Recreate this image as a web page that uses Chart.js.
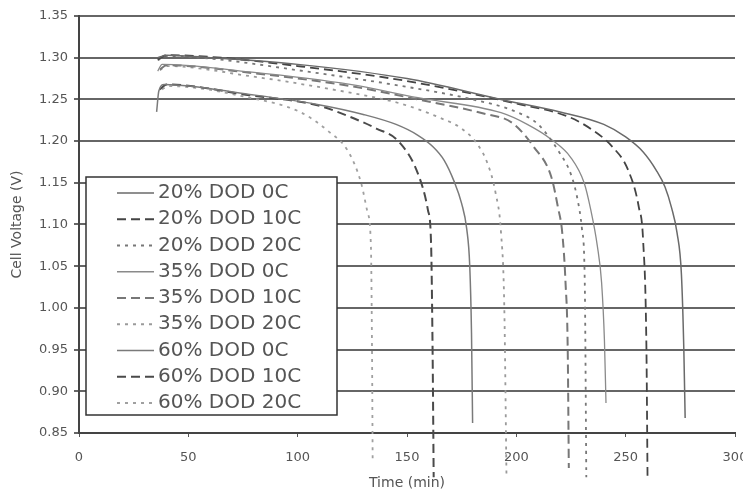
<!DOCTYPE html>
<html>
<head>
<meta charset="utf-8">
<script src="https://cdn.jsdelivr.net/npm/chart.js@4.4.1/dist/chart.umd.min.js"></script>
<style>
  html, body { margin: 0; padding: 0; background: #fff; }
</style>
</head>
<body>
<canvas id="dodChart" width="743" height="495"></canvas>
<script>
// discharge curves, time in minutes and cell voltage in volts
const seriesNames = [
  '20% DOD 0C', '20% DOD 10C', '20% DOD 20C',
  '35% DOD 0C', '35% DOD 10C', '35% DOD 20C',
  '60% DOD 0C', '60% DOD 10C', '60% DOD 20C'
];

const t20_0C  = [36, 40, 60, 100, 150, 193, 220, 240, 250, 258, 264, 268, 271, 273.5, 275.5, 276.6, 277.2];
const v20_0C  = [1.300, 1.303, 1.300, 1.292, 1.275, 1.250, 1.235, 1.220, 1.205, 1.187, 1.165, 1.145, 1.120, 1.090, 1.040, 0.950, 0.868];
const t20_10C = [36, 40, 60, 100, 150, 200, 224, 235, 244, 251, 256, 258, 259.5, 260];
const v20_10C = [1.298, 1.303, 1.301, 1.290, 1.272, 1.245, 1.229, 1.213, 1.193, 1.166, 1.121, 1.080, 0.950, 0.797];
const t20_20C = [36, 40, 60, 100, 150, 180, 200, 210, 220, 225, 228, 230, 231.3, 232];
const v20_20C = [1.297, 1.302, 1.299, 1.285, 1.265, 1.250, 1.235, 1.220, 1.185, 1.160, 1.130, 1.095, 1.030, 0.797];

const t35_0C  = [36, 38, 78, 124, 155, 193, 205, 216, 225, 231, 234, 237, 239, 240.3, 241];
const v35_0C  = [1.284, 1.292, 1.283, 1.268, 1.252, 1.234, 1.220, 1.202, 1.180, 1.150, 1.118, 1.075, 1.030, 0.960, 0.886];
const t35_10C = [37, 40, 78, 124, 155, 185, 198, 208, 216, 219, 221, 222.5, 223.5, 224];
const v35_10C = [1.286, 1.291, 1.282, 1.266, 1.250, 1.233, 1.222, 1.193, 1.157, 1.121, 1.090, 1.030, 0.950, 0.808];
const t35_20C = [37, 40, 78, 124, 147, 165, 175, 182, 187, 190.5, 193, 194.5, 195.5];
const v35_20C = [1.285, 1.290, 1.278, 1.258, 1.245, 1.228, 1.215, 1.197, 1.172, 1.138, 1.090, 1.000, 0.797];

const t60_0C  = [35.5, 36.5, 39, 78, 109, 130, 145, 155, 162, 167, 171.5, 175, 177.3, 178.7, 179.5, 180];
const v60_0C  = [1.235, 1.260, 1.268, 1.256, 1.244, 1.232, 1.220, 1.207, 1.193, 1.177, 1.152, 1.125, 1.095, 1.050, 0.970, 0.862];
const t60_10C = [37, 40, 78, 109, 124, 136, 146, 155, 159.6, 161, 161.7, 162.2];
const v60_10C = [1.262, 1.268, 1.255, 1.243, 1.229, 1.215, 1.200, 1.161, 1.117, 1.078, 0.950, 0.797];
const t60_20C = [38, 41, 78, 101, 114, 123, 129, 132, 133.5, 134, 134.3];
const v60_20C = [1.262, 1.266, 1.252, 1.235, 1.212, 1.188, 1.150, 1.114, 1.074, 0.950, 0.814];

const xTicks = [0, 50, 100, 150, 200, 250, 300];
const yTicks = [0.85, 0.90, 0.95, 1.00, 1.05, 1.10, 1.15, 1.20, 1.25, 1.30, 1.35];

const times = [t20_0C, t20_10C, t20_20C, t35_0C, t35_10C, t35_20C, t60_0C, t60_10C, t60_20C];
const volts = [v20_0C, v20_10C, v20_20C, v35_0C, v35_10C, v35_20C, v60_0C, v60_10C, v60_20C];

// line look per series: colour, width, dash
const lineColors = ['#6a6a6a', '#444', '#777', '#8a8a8a', '#777', '#9a9a9a', '#7a7a7a', '#4a4a4a', '#a0a0a0'];
const lineWidths = [1.5, 1.8, 1.8, 1.3, 2, 1.8, 1.5, 2, 1.8];
const dashes = [[], [9, 5], [3, 5], [], [9, 5], [3, 5], [], [9, 5], [3, 5]];

const FONT = '"DejaVu Sans", Verdana, sans-serif';

const datasets = seriesNames.map((name, i) => ({
  label: name,
  data: times[i].map((t, k) => ({ x: t, y: volts[i][k] })),
  borderColor: lineColors[i],
  borderWidth: lineWidths[i],
  borderDash: dashes[i],
  pointRadius: 0,
  fill: false,
  cubicInterpolationMode: 'monotone',
  clip: false
}));

// boxed legend sitting in the lower left of the plot
const boxLegend = {
  id: 'boxLegend',
  afterDraw(chart) {
    const { ctx } = chart;
    ctx.save();
    ctx.fillStyle = '#fff';
    ctx.fillRect(86, 177, 251, 238);
    ctx.strokeStyle = '#333';
    ctx.lineWidth = 1.5;
    ctx.strokeRect(86, 177, 251, 238);

    chart.data.datasets.forEach((ds, i) => {
      const y = 193 + i * 26.25;
      ctx.beginPath();
      ctx.setLineDash(ds.borderDash);
      ctx.strokeStyle = ds.borderColor;
      ctx.lineWidth = ds.borderWidth;
      ctx.moveTo(117, y);
      ctx.lineTo(154, y);
      ctx.stroke();
      ctx.setLineDash([]);
      ctx.fillStyle = '#555';
      ctx.font = '20px ' + FONT;
      ctx.textBaseline = 'middle';
      ctx.textAlign = 'left';
      ctx.fillText(ds.label, 158, y);
    });
    ctx.restore();
  }
};

const config = {
  type: 'line',
  data: { datasets },
  options: {
    responsive: false,
    animation: false,
    layout: { padding: { top: 16, right: 8, left: 0, bottom: 0 } },
    plugins: {
      legend: { display: false },
      tooltip: { enabled: false }
    },
    scales: {
      x: {
        type: 'linear',
        min: 0,
        max: 300,
        afterBuildTicks: (s) => { s.ticks = xTicks.map(v => ({ value: v })); },
        afterFit: (s) => { s.height = 62; s.paddingRight = 0; s.paddingLeft = 0; },
        grid: { drawOnChartArea: false, tickLength: 4, color: '#555', lineWidth: 1 },
        border: { display: true, color: '#444', width: 2 },
        ticks: { color: '#555', font: { family: FONT, size: 13 }, padding: 13, maxRotation: 0 },
        title: {
          display: true,
          text: 'Time (min)',
          color: '#555',
          font: { family: FONT, size: 14 },
          padding: { top: 0, bottom: 3 }
        }
      },
      y: {
        min: 0.85,
        max: 1.35,
        afterBuildTicks: (s) => { s.ticks = yTicks.map(v => ({ value: v })); },
        afterFit: (s) => { s.width = 79; s.paddingTop = 0; s.paddingBottom = 0; },
        grid: { color: '#666', lineWidth: 2, tickLength: 5 },
        border: { display: true, color: '#444', width: 2 },
        ticks: {
          color: '#555',
          font: { family: FONT, size: 13 },
          padding: 6,
          callback: (v) => Number(v).toFixed(2)
        },
        title: {
          display: true,
          text: 'Cell Voltage (V)',
          color: '#555',
          font: { family: FONT, size: 14 },
          padding: { top: 9, bottom: 0 }
        }
      }
    }
  },
  plugins: [boxLegend]
};

const dodChart = new Chart(document.getElementById('dodChart'), config);
</script>
</body>
</html>
